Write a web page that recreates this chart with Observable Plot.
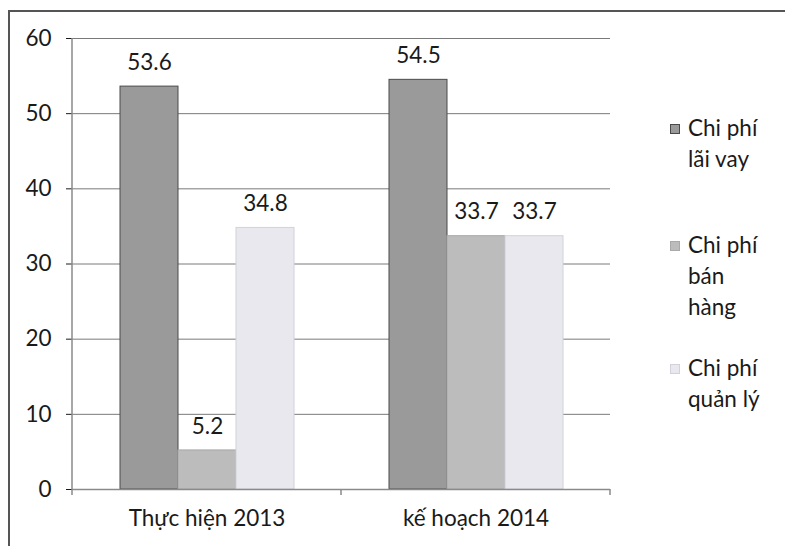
<!DOCTYPE html>
<html><head><meta charset="utf-8">
<script src="https://cdn.jsdelivr.net/npm/d3@7"></script>
<script src="https://cdn.jsdelivr.net/npm/@observablehq/plot@0.6"></script>
<style>
body{margin:0;background:#fff;font-family:Lato,"Noto Sans",sans-serif;}
#wrap{position:relative;width:785px;height:546px;overflow:hidden;background:#fff;}
#frame{position:absolute;left:8px;top:10px;width:800px;height:600px;border-left:2px solid #555;border-top:2px solid #555;pointer-events:none;}
#chart{position:absolute;left:0;top:0;}
.leg{position:absolute;left:670px;font-size:22.5px;line-height:31px;color:#1a1a1a;display:flex;align-items:flex-start;}
.leg .sw{width:8px;height:8px;margin-top:12px;margin-right:8px;flex:none;}
.leg .lb{width:84px;}
</style></head><body>
<div id="wrap"><div id="chart"></div><div id="frame"></div></div>
<script>
const groups = ["Thực hiện 2013", "kế hoạch 2014"];
const series = ["Chi phí lãi vay", "Chi phí bán hàng", "Chi phí quản lý"];
const values2013 = [53.6, 5.2, 34.8];
const values2014 = [54.5, 33.7, 33.7];
const yTicks = [0, 10, 20, 30, 40, 50, 60];

const fills = ["#9a9a9a", "#bcbcbc", "#e8e8ee"];
const strokes = ["#4a4a4a", "#a9a9a9", "#d2d2da"];

const data = [];
[values2013, values2014].forEach((vals, gi) => {
  vals.forEach((v, si) => data.push({group: groups[gi], series: series[si], value: v}));
});

const font = "Lato, 'Noto Sans', sans-serif";
const plot = Plot.plot({
  width: 785, height: 546,
  marginLeft: 72, marginRight: 175, marginTop: 38, marginBottom: 57,
  style: {fontFamily: font, fontSize: "22.5px", color: "#1a1a1a", background: "transparent"},
  fx: {domain: groups, padding: 0, label: null, tickSize: 0, tickPadding: 21, axis: "bottom"},
  x: {domain: series, paddingInner: 0, paddingOuter: 0.8, axis: null},
  y: {domain: [0, 60], ticks: yTicks, tickSize: 6, tickPadding: 15, label: null},
  marks: [
    Plot.ruleY(yTicks.slice(1), {stroke: "#7a7a7a", strokeWidth: 1}),
    ...series.map((s, i) => Plot.barY(data.filter(d => d.series === s), {
      fx: "group", x: "series", y: "value", fill: fills[i], stroke: strokes[i], strokeWidth: 1
    })),
    Plot.ruleY([0], {stroke: "#8a8a8a", strokeWidth: 1.5}),
    Plot.text(data, {fx: "group", x: "series", y: "value", text: d => d.value.toFixed(1), dy: -24, fontSize: 22.5, fill: "#1a1a1a"})
  ]
});
document.getElementById("chart").appendChild(plot);

// axis line on the left and boundary ticks between groups, placed from Plot's scales
const fxS = plot.scale("fx"), yS = plot.scale("y");
const y0 = yS.apply(0), yTop = yS.apply(60);
const bounds = [fxS.apply(groups[0]), ...groups.map(g => fxS.apply(g) + fxS.bandwidth)];
const g = d3.select(plot).append("g").attr("stroke", "#8a8a8a").attr("stroke-width", 1.5);
g.append("line").attr("x1", bounds[0]).attr("x2", bounds[0]).attr("y1", yTop).attr("y2", y0);
bounds.forEach(b => g.append("line").attr("x1", b).attr("x2", b).attr("y1", y0).attr("y2", y0 + 6));

// legend
const legTops = [112, 229, 352];
const wrap = document.getElementById("wrap");
series.forEach((s, i) => {
  const el = document.createElement("div");
  el.className = "leg";
  el.style.top = legTops[i] + "px";
  const sw = document.createElement("div");
  sw.className = "sw";
  sw.style.background = fills[i];
  sw.style.border = "1px solid " + strokes[i];
  const lb = document.createElement("div");
  lb.className = "lb";
  lb.textContent = s;
  el.appendChild(sw); el.appendChild(lb);
  wrap.appendChild(el);
});
</script>
</body></html>
